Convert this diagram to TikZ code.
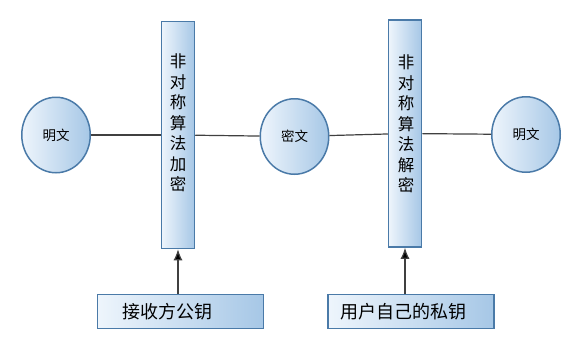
\documentclass[tikz,border=0pt]{standalone}
\usepackage{fontspec}
\newfontfamily\cjk{Noto Sans CJK SC}
\usetikzlibrary{shapes.geometric,arrows.meta}
\definecolor{edgeblue}{RGB}{74,122,168}
\definecolor{lightblue}{RGB}{238,245,252}
\definecolor{midblue}{RGB}{166,199,230}
\definecolor{wire}{RGB}{64,64,64}

\begin{document}
\begin{tikzpicture}[x=1pt, y=-1pt, font=\cjk,
  textball/.style={ellipse, draw=edgeblue, line width=1.5pt, left color=lightblue, right color=midblue,
    minimum width=68.5pt, minimum height=75.5pt, inner sep=0pt, font=\cjk\fontsize{13.5}{15}\selectfont},
  algobar/.style={rectangle, draw=edgeblue, line width=1.5pt, left color=lightblue, right color=midblue,
    minimum width=33pt, minimum height=227pt, inner sep=0pt},
  bartext/.style={align=center, inner sep=0pt, font=\cjk\fontsize{16.5}{20.5}\selectfont},
  keybox/.style={rectangle, draw=edgeblue, line width=1.5pt, left color=lightblue, right color=midblue,
    minimum width=166pt, minimum height=34pt, inner sep=0pt},
  keytext/.style={inner sep=0pt, font=\cjk\fontsize{18}{20}\selectfont},
  link/.style={draw=wire, line width=1.2pt},
  keyarrow/.style={draw=wire, line width=1.2pt, -{Latex[length=11pt,width=9pt,fill=black]}}]
\useasboundingbox (0,0) rectangle (583,340);
\node[textball] (plainA) at (56,135) {明文};
\node[algobar] (enc) at (178,135) {};
\node[bartext] (enctext) at (178,123) {非\\对\\称\\算\\法\\加\\密};
\node[textball] (cipher) at (294.5,136.5) {密文};
\node[algobar] (dec) at (405,133.5) {};
\node[bartext] (dectext) at (406,124) {非\\对\\称\\算\\法\\解\\密};
\node[textball] (plainB) at (526,134.5) {明文};
\node[keybox] (pubkey) at (180.5,311.5) {};
\node[keytext] (pubtext) at (167.5,312) {接收方公钥};
\node[keybox] (privkey) at (411,311.5) {};
\node[keytext] (privtext) at (403,312) {用户自己的私钥};
\draw[link] (plainA) -- (enc);
\draw[link] (enc) -- (cipher);
\draw[link] (cipher) -- (dec);
\draw[link] (dec) -- (plainB);
\draw[keyarrow] (pubkey.north -| enc) -- (enc.south);
\draw[keyarrow] (privkey.north -| dec) -- (dec.south);
\end{tikzpicture}
\end{document}
